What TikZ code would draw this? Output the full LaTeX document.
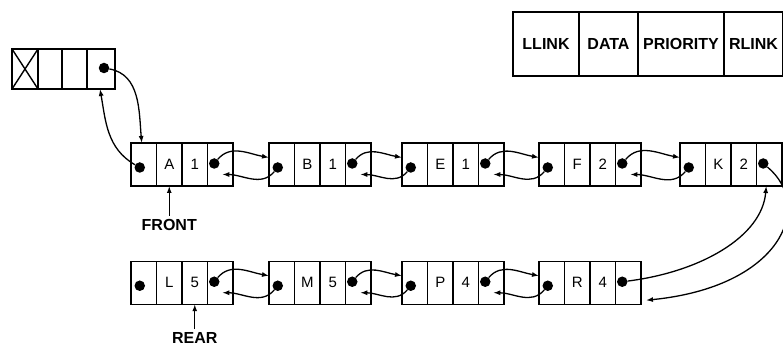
\documentclass[tikz,border=0pt]{standalone}
\usepackage{fontspec}
\setmainfont{Liberation Sans}
\usetikzlibrary{arrows.meta,calc,positioning}

\begin{document}
\begin{tikzpicture}[x=1pt,y=1pt,>={Latex[length=7pt,width=5pt]},
  cell/.style={draw,line width=1.4pt,minimum width=25.5pt,minimum height=43pt,inner sep=0pt,outer sep=0pt,font=\fontsize{15}{15}\selectfont},
  key/.style={draw,line width=1.4pt,minimum height=64pt,inner sep=0pt,outer sep=0pt,font=\bfseries\fontsize{16}{16}\selectfont},
  dot/.style={circle,fill,inner sep=0pt,minimum size=10.5pt},
  link/.style={->,line width=1.3pt},
  tag/.style={font=\bfseries\fontsize{16}{16}\selectfont}]
\useasboundingbox (0,0) rectangle (783,347);

\node[key,minimum width=66pt] (llink) at (546,303) {LLINK};
\node[key,minimum width=59pt,right=0pt of llink] (data) {DATA};
\node[key,minimum width=86pt,right=0pt of data] (prio) {PRIORITY};
\node[key,minimum width=59pt,right=0pt of prio] (rlink) {RLINK};

\node[cell,minimum width=26pt,minimum height=40pt] (head-a) at (25,278) {};
\node[cell,minimum width=24pt,minimum height=40pt,right=0pt of head-a] (head-b) {};
\node[cell,minimum width=25pt,minimum height=40pt,right=0pt of head-b] (head-c) {};
\node[cell,minimum width=28pt,minimum height=40pt,right=0pt of head-c] (head-d) {};
\draw[line width=1.4pt] (head-a.north west) -- (head-a.south east) (head-a.south west) -- (head-a.north east);
\node[dot] (head-dot) at ($(head-d.center)+(3,1)$) {};
\coordinate (head-in) at ($(head-d.south)+(-1,0)$);

\foreach \n/\x/\y/\dat/\pri in {A/131/182.5/A/1,B/269/182.5/B/1,E/402/182.5/E/1,F/539/182.5/F/2,K/680/182.5/K/2,
                               L/131/64.25/L/5,M/269/64.25/M/5,P/402/64.25/P/4,R/539/64.25/R/4}{
  \node[cell] (\n-l) at (\x+12.75,\y) {};
  \node[cell,right=0pt of \n-l] (\n-d) {\dat};
  \node[cell,right=0pt of \n-d] (\n-p) {\pri};
  \node[cell,right=0pt of \n-p] (\n-r) {};
  \node[dot] (\n-ld) at ($(\n-l.center)+(-4,-3)$) {};
  \node[dot] (\n-rd) at ($(\n-r.center)+(-6,1)$) {};
  \coordinate (\n-in) at ($(\n-l.west)+(0,7)$);
  \coordinate (\n-back) at ($(\n-r.center)+(2,-10)$);
}

\foreach \a/\b in {A/B,B/E,E/F,F/K,L/M,M/P,P/R}{
  \draw[link] (\a-rd) to[out=50,in=170] (\b-in);
  \draw[link] (\b-ld) to[out=-130,in=0] (\a-back);
}

\coordinate (A-top) at ($(A-l.north)+(-2,0)$);
\draw[link] (head-dot) to[out=-10,in=95] (A-top);
\draw[link] (A-ld) to[out=150,in=-80] (head-in);

\coordinate (R-out) at ($(R-r.south east)+(5,4)$);
\coordinate (K-up) at ($(K-r.south)+(-3,0)$);
\draw[link] (K-rd) .. controls (815,140) and (780,60) .. (R-out);
\draw[link] (R-rd) .. controls (700,75) and (762,110) .. (K-up);

\node[tag,below=30pt of A-d] (front) {FRONT};
\draw[link] (front) -- (A-d.south);
\node[tag,below=25pt of L-p] (rear) {REAR};
\draw[link] (rear) -- (L-p.south);
\end{tikzpicture}
\end{document}
